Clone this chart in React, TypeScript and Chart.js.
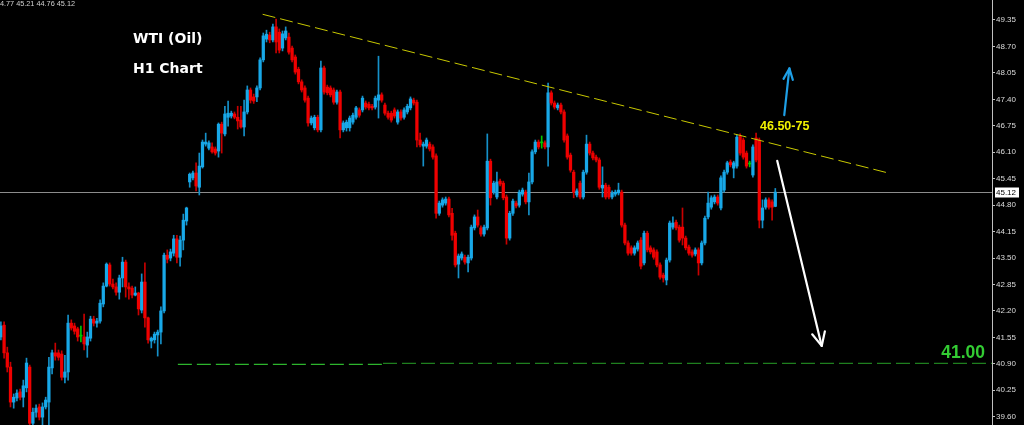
import { useEffect, useRef } from "react";
import { Chart, registerables } from "chart.js";

Chart.register(...registerables);

// ---- Data (WTI H1 candles) ----
const OPEN = [
  41.56, 41.85, 41.17, 40.82, 39.96, 40.06, 40.21, 40.08, 40.31, 40.82,
  39.44, 39.71, 39.84, 39.59, 39.84, 39.96, 40.80, 41.17, 41.17, 41.14,
  40.57, 40.70, 41.90, 41.83, 41.76, 41.58, 41.56, 41.36, 41.53, 42.00,
  41.90, 41.95, 42.37, 42.81, 43.33, 42.86, 42.79, 42.66, 43.01, 43.40,
  42.79, 42.76, 42.59, 42.64, 42.22, 42.91, 42.03, 41.46, 41.49, 41.61,
  41.68, 42.20, 43.57, 43.50, 43.62, 43.97, 43.52, 43.94, 44.41, 45.37,
  45.47, 45.59, 45.24, 45.74, 46.30, 46.20, 46.23, 46.18, 46.13, 46.79,
  46.55, 46.96, 46.99, 47.04, 46.96, 46.89, 46.72, 47.09, 47.63, 47.46,
  47.46, 47.68, 48.37, 48.88, 48.98, 48.86, 49.18, 49.05, 48.66, 48.91,
  48.93, 48.66, 48.44, 48.14, 47.83, 47.68, 47.43, 46.82, 46.70, 46.96,
  46.65, 48.17, 47.70, 47.68, 47.63, 47.33, 47.58, 46.65, 46.70, 46.70,
  46.84, 46.96, 47.14, 47.14, 47.31, 47.28, 47.23, 47.21, 47.38, 47.51,
  47.26, 47.06, 47.06, 47.14, 46.84, 47.09, 46.96, 47.09, 47.19, 47.38,
  47.33, 46.40, 46.25, 46.25, 46.30, 46.23, 46.01, 44.60, 44.80, 44.85,
  44.95, 44.60, 44.11, 43.35, 43.50, 43.52, 43.38, 43.50, 44.24, 44.51,
  44.24, 44.09, 44.24, 45.88, 45.12, 45.00, 45.39, 45.34, 45.00, 43.99,
  44.60, 44.85, 44.80, 45.07, 45.12, 44.88, 45.37, 46.11, 46.35, 46.33,
  46.33, 46.23, 47.56, 47.31, 47.19, 47.26, 47.09, 46.50, 46.03, 45.61,
  45.05, 45.34, 45.00, 45.61, 46.30, 46.08, 45.98, 45.91, 45.22, 45.29,
  45.24, 45.00, 45.07, 45.10, 45.12, 44.31, 43.87, 43.75, 43.62, 43.72,
  43.94, 43.38, 44.11, 43.75, 43.70, 43.65, 43.33, 43.08, 42.96, 43.45,
  44.26, 44.38, 44.26, 44.26, 43.99, 43.77, 43.65, 43.60, 43.70, 43.38,
  43.87, 44.51, 44.75, 44.88, 45.00, 44.73, 45.17, 45.61, 45.86, 45.71,
  45.76, 46.50, 46.40, 46.08, 45.81, 45.54, 46.45, 46.40, 44.43, 44.75,
  44.93, 44.88, 44.77,
];
const HIGH = [
  41.93, 41.93, 41.31, 40.94, 40.16, 40.26, 40.28, 40.50, 41.04, 40.87,
  39.81, 39.89, 39.91, 39.94, 40.08, 41.06, 41.24, 41.41, 41.24, 41.22,
  41.11, 42.10, 41.98, 41.90, 41.80, 41.83, 42.12, 41.68, 42.07, 42.07,
  42.02, 42.47, 42.89, 43.38, 43.38, 42.98, 42.89, 43.08, 43.52, 43.45,
  42.89, 42.81, 42.79, 42.66, 43.11, 43.38, 42.05, 41.56, 41.68, 41.73,
  42.30, 43.62, 43.70, 43.72, 44.06, 44.06, 44.04, 44.58, 44.75, 45.59,
  45.64, 45.84, 46.08, 46.40, 46.57, 46.38, 46.33, 46.23, 46.82, 46.84,
  47.23, 47.36, 47.11, 47.09, 47.23, 47.23, 47.38, 47.73, 47.68, 47.53,
  47.73, 48.42, 49.03, 49.10, 49.05, 49.25, 49.37, 49.13, 49.08, 49.18,
  49.03, 48.71, 48.49, 48.19, 47.88, 47.73, 47.48, 46.99, 47.01, 47.01,
  48.34, 48.22, 47.75, 47.73, 47.68, 47.63, 47.63, 46.87, 46.89, 46.99,
  47.06, 47.23, 47.19, 47.48, 47.36, 47.33, 47.28, 47.48, 48.46, 47.56,
  47.31, 47.11, 47.11, 47.19, 47.14, 47.14, 47.19, 47.28, 47.46, 47.43,
  47.38, 46.57, 46.35, 46.45, 46.35, 46.28, 46.06, 44.90, 44.98, 45.00,
  45.00, 44.72, 44.16, 43.60, 43.65, 43.57, 43.57, 44.31, 44.56, 44.68,
  44.29, 44.31, 46.55, 45.93, 45.39, 45.61, 45.44, 45.39, 45.05, 44.65,
  44.95, 44.90, 45.17, 45.22, 45.17, 45.59, 46.16, 46.40, 46.40, 46.50,
  46.38, 47.80, 47.61, 47.36, 47.31, 47.31, 47.14, 46.55, 46.08, 45.66,
  45.20, 45.39, 45.66, 46.52, 46.35, 46.13, 46.03, 45.96, 45.74, 45.34,
  45.29, 45.15, 45.17, 45.34, 45.17, 44.36, 43.92, 43.80, 43.80, 43.92,
  44.00, 44.16, 44.16, 43.80, 43.75, 43.70, 43.38, 43.13, 43.50, 44.41,
  44.51, 44.43, 44.31, 44.73, 44.04, 43.82, 43.70, 43.75, 43.75, 43.92,
  44.53, 45.12, 45.03, 45.05, 45.05, 45.52, 45.66, 45.88, 45.91, 45.88,
  46.52, 46.55, 46.45, 46.13, 45.88, 46.28, 46.57, 46.45, 44.93, 44.98,
  44.98, 44.93, 45.21,
];
const LOW = [
  41.49, 41.04, 40.70, 39.84, 39.81, 39.99, 40.01, 39.84, 40.21, 39.32,
  39.32, 39.59, 39.52, 39.39, 39.79, 39.39, 40.65, 40.99, 40.99, 40.50,
  40.43, 40.50, 41.73, 41.63, 41.46, 41.44, 41.24, 41.06, 41.46, 41.83,
  41.80, 41.90, 42.30, 42.79, 42.81, 42.74, 42.59, 42.49, 42.79, 42.54,
  42.49, 42.52, 42.57, 42.10, 42.15, 41.80, 41.41, 41.29, 41.41, 41.09,
  41.39, 42.15, 43.38, 43.43, 43.55, 43.38, 43.30, 43.70, 44.31, 45.24,
  45.42, 45.15, 45.05, 45.71, 46.25, 46.16, 46.08, 46.03, 45.98, 46.08,
  46.50, 46.74, 46.94, 46.92, 46.67, 46.69, 46.50, 47.04, 47.31, 47.30,
  47.34, 47.63, 48.32, 48.81, 48.79, 48.81, 48.54, 48.54, 48.59, 48.86,
  48.51, 48.32, 48.02, 47.78, 47.58, 47.33, 46.74, 46.77, 46.65, 46.60,
  46.60, 47.53, 47.51, 47.46, 47.28, 47.28, 46.45, 46.60, 46.62, 46.62,
  46.79, 46.91, 46.96, 47.09, 47.16, 47.14, 47.14, 47.16, 46.94, 47.33,
  47.01, 46.91, 46.84, 46.94, 46.79, 46.89, 46.91, 47.04, 47.14, 47.26,
  46.23, 46.23, 45.76, 46.20, 46.13, 45.93, 44.48, 44.55, 44.75, 44.80,
  44.51, 43.94, 43.28, 43.01, 43.45, 43.35, 43.16, 43.45, 44.19, 44.26,
  44.04, 44.04, 44.19, 44.80, 45.07, 44.95, 45.27, 44.93, 43.84, 43.94,
  44.55, 44.73, 44.75, 45.02, 44.83, 44.56, 45.32, 46.06, 46.18, 46.20,
  46.18, 45.76, 47.26, 47.16, 47.14, 47.04, 46.35, 45.93, 45.61, 44.98,
  45.00, 44.95, 44.95, 45.56, 46.03, 45.91, 45.86, 45.19, 45.00, 44.95,
  44.95, 44.95, 45.02, 45.05, 44.26, 43.82, 43.57, 43.57, 43.57, 43.67,
  43.23, 43.33, 43.65, 43.60, 43.47, 43.28, 42.98, 42.91, 42.84, 43.40,
  44.21, 44.19, 43.89, 43.82, 43.70, 43.57, 43.52, 43.55, 43.08, 43.33,
  43.82, 44.46, 44.70, 44.83, 44.80, 44.68, 45.12, 45.56, 45.74, 45.47,
  45.71, 46.03, 45.93, 45.71, 45.74, 45.49, 45.86, 44.24, 44.24, 44.70,
  44.70, 44.43, 44.76,
];
const CLOSE = [
  41.83, 41.17, 40.82, 39.96, 40.08, 40.18, 40.08, 40.36, 40.92, 39.44,
  39.71, 39.81, 39.59, 39.84, 40.01, 40.82, 41.17, 41.09, 41.06, 40.57,
  40.70, 41.90, 41.78, 41.70, 41.56, 41.58, 41.39, 41.56, 42.00, 41.90,
  41.95, 42.39, 42.81, 43.35, 42.86, 42.79, 42.66, 43.01, 43.40, 42.79,
  42.74, 42.59, 42.64, 42.25, 42.91, 42.03, 41.49, 41.53, 41.63, 41.68,
  42.20, 43.57, 43.47, 43.65, 43.97, 43.52, 43.94, 44.43, 44.73, 45.56,
  45.59, 45.27, 45.76, 46.35, 46.35, 46.33, 46.11, 46.08, 46.79, 46.57,
  47.04, 47.06, 47.06, 46.96, 46.87, 46.72, 47.09, 47.63, 47.38, 47.36,
  47.68, 48.37, 48.96, 49.00, 48.86, 49.18, 48.81, 48.61, 49.01, 49.08,
  48.56, 48.37, 48.07, 47.83, 47.63, 47.38, 46.82, 46.94, 46.96, 46.65,
  48.17, 47.58, 47.56, 47.51, 47.33, 47.58, 46.65, 46.82, 46.84, 46.94,
  47.01, 47.19, 47.01, 47.43, 47.21, 47.19, 47.19, 47.43, 47.51, 47.38,
  47.06, 46.96, 46.89, 46.99, 47.09, 46.94, 47.14, 47.23, 47.41, 47.31,
  46.40, 46.28, 46.30, 46.40, 46.18, 45.98, 44.60, 44.85, 44.93, 44.95,
  44.56, 44.06, 43.33, 43.55, 43.60, 43.40, 43.52, 44.26, 44.51, 44.31,
  44.09, 44.26, 45.88, 44.98, 45.34, 45.37, 45.32, 44.98, 43.99, 44.60,
  44.90, 44.78, 45.12, 45.17, 44.88, 45.37, 46.11, 46.35, 46.23, 46.33,
  46.23, 47.56, 47.31, 47.21, 47.26, 47.09, 46.40, 45.98, 45.66, 45.12,
  45.15, 45.00, 45.61, 46.30, 46.08, 45.96, 45.91, 45.24, 45.29, 45.00,
  45.00, 45.10, 45.12, 45.17, 44.31, 43.87, 43.62, 43.62, 43.75, 43.87,
  43.30, 44.11, 43.70, 43.65, 43.52, 43.33, 43.03, 43.01, 43.45, 44.36,
  44.36, 44.24, 43.94, 43.99, 43.75, 43.62, 43.57, 43.70, 43.38, 43.87,
  44.48, 44.85, 44.98, 45.00, 44.85, 45.47, 45.61, 45.84, 45.79, 45.84,
  46.47, 46.08, 45.98, 45.76, 45.81, 46.23, 45.91, 44.43, 44.73, 44.93,
  44.75, 44.75, 45.12,
];

const Y_TICKS = [
  39.6, 40.25, 40.9, 41.55, 42.2, 42.85, 43.5, 44.15, 44.8, 45.45, 46.1,
  46.75, 47.4, 48.05, 48.7, 49.35,
];
const Y_MIN = 39.3967;
const Y_MAX = 49.8415;
const X_MIN = -0.28;
const X_MAX = 309.72;

const LAST_PRICE = 45.12;
const INFO_TEXT = "44.77 45.21 44.76 45.12";

// Drawn objects (bar index, price)
const TREND_LINE = [
  { x: 81.8, y: 49.49 },
  { x: 277.8, y: 45.58 },
];
const SUPPORT_A = [
  { x: 55.3, y: 40.885 },
  { x: 119.4, y: 40.885 },
];
const SUPPORT_B = [
  { x: 119.4, y: 40.91 },
  { x: 309.7, y: 40.91 },
];
const UP_ARROW = [
  { x: 244.8, y: 47.01 },
  { x: 246.4, y: 48.16 },
];
const DOWN_ARROW = [
  { x: 242.6, y: 45.89 },
  { x: 256.5, y: 41.34 },
];

const UP_BODY = "#18a8e8";
const DOWN_BODY = "#f00000";
const DOJI = "#00c800";
const UP_WICK = "#1590c8";
const DOWN_WICK = "#c80000";

function drawArrow(
  ctx: CanvasRenderingContext2D,
  x1: number,
  y1: number,
  x2: number,
  y2: number,
  color: string,
  width: number,
  headLen: number,
  headAngle: number
) {
  ctx.save();
  ctx.strokeStyle = color;
  ctx.lineWidth = width;
  ctx.lineCap = "round";
  ctx.lineJoin = "round";
  ctx.beginPath();
  ctx.moveTo(x1, y1);
  ctx.lineTo(x2, y2);
  ctx.stroke();
  const a = Math.atan2(y1 - y2, x1 - x2);
  ctx.beginPath();
  ctx.moveTo(
    x2 + headLen * Math.cos(a + headAngle),
    y2 + headLen * Math.sin(a + headAngle)
  );
  ctx.lineTo(x2, y2);
  ctx.lineTo(
    x2 + headLen * Math.cos(a - headAngle),
    y2 + headLen * Math.sin(a - headAngle)
  );
  ctx.stroke();
  ctx.restore();
}

const overlayPlugin = {
  id: "overlay",
  beforeDatasetsDraw(chart: any) {
    const { ctx, chartArea, scales } = chart;
    const py = Math.round(scales.y.getPixelForValue(LAST_PRICE)) + 0.5;
    ctx.save();
    ctx.strokeStyle = "#8c8c8c";
    ctx.lineWidth = 1;
    ctx.beginPath();
    ctx.moveTo(chartArea.left, py);
    ctx.lineTo(chartArea.right, py);
    ctx.stroke();
    ctx.restore();
  },
  afterDraw(chart: any) {
    const { ctx, chartArea, scales } = chart;
    const xs = scales.x;
    const ys = scales.y;
    const px = (p: { x: number; y: number }) => [
      xs.getPixelForValue(p.x),
      ys.getPixelForValue(p.y),
    ];

    const [ua, ub] = [px(UP_ARROW[0]), px(UP_ARROW[1])];
    drawArrow(ctx, ua[0], ua[1], ub[0], ub[1], "#1e9fe6", 2.2, 12, 0.4);
    const [da, db] = [px(DOWN_ARROW[0]), px(DOWN_ARROW[1])];
    drawArrow(ctx, da[0], da[1], db[0], db[1], "#ffffff", 2.2, 15, 0.45);

    ctx.save();
    // header info
    ctx.fillStyle = "#d0d0d0";
    ctx.font = "7.3px 'Liberation Sans', Arial, sans-serif";
    ctx.textAlign = "right";
    ctx.textBaseline = "alphabetic";
    ctx.fillText(INFO_TEXT, 75, 6);

    // titles
    ctx.textAlign = "left";
    ctx.fillStyle = "#ffffff";
    ctx.font = "bold 14px 'DejaVu Sans', sans-serif";
    ctx.fillText("WTI (Oil)", 133, 43);
    ctx.fillText("H1 Chart", 133, 73);

    // target label
    ctx.fillStyle = "#f2f200";
    ctx.font = "bold 12.5px 'Liberation Sans', Arial, sans-serif";
    ctx.fillText("46.50-75", 760, 129.5);

    // support label
    ctx.fillStyle = "#33cc33";
    ctx.font = "bold 17.5px 'Liberation Sans', Arial, sans-serif";
    ctx.textAlign = "right";
    ctx.fillText("41.00", chartArea.right - 7, 357.5);

    // last price box on the axis
    const py = Math.round(ys.getPixelForValue(LAST_PRICE));
    ctx.fillStyle = "#ffffff";
    ctx.fillRect(chartArea.right + 3, py - 4.5, 24, 10);
    ctx.fillStyle = "#000000";
    ctx.font = "8px 'Liberation Sans', Arial, sans-serif";
    ctx.textAlign = "left";
    ctx.textBaseline = "middle";
    ctx.fillText(LAST_PRICE.toFixed(2), chartArea.right + 4, py + 0.5);
    ctx.restore();
  },
};

export default function App() {
  const ref = useRef<HTMLCanvasElement | null>(null);

  useEffect(() => {
    if (!ref.current) return;
    const idx = OPEN.map((_, i) => i);
    const dir = idx.map((i) =>
      CLOSE[i] > OPEN[i] ? 1 : CLOSE[i] < OPEN[i] ? -1 : 0
    );
    const bodyColors = dir.map((d) =>
      d > 0 ? UP_BODY : d < 0 ? DOWN_BODY : DOJI
    );
    const wickColors = dir.map((d) =>
      d > 0 ? UP_WICK : d < 0 ? DOWN_WICK : DOJI
    );

    const chart = new Chart(ref.current, {
      type: "bar",
      data: {
        datasets: [
          {
            type: "line",
            data: TREND_LINE,
            borderColor: "#c8c800",
            borderWidth: 1,
            borderDash: [13, 5],
            pointRadius: 0,
            order: 0,
          } as any,
          {
            type: "line",
            data: SUPPORT_A,
            borderColor: "#2db52d",
            borderWidth: 1.3,
            borderDash: [14, 5],
            pointRadius: 0,
            order: 0,
          } as any,
          {
            type: "line",
            data: SUPPORT_B,
            borderColor: "#1f7f1f",
            borderWidth: 1.3,
            borderDash: [14, 5],
            pointRadius: 0,
            order: 0,
          } as any,
          {
            type: "bar",
            data: idx.map((i) => ({ x: i, y: [OPEN[i], CLOSE[i]] })),
            backgroundColor: bodyColors,
            barThickness: 2.6,
            grouped: false,
            minBarLength: 1,
            borderWidth: 0,
            order: 1,
          } as any,
          {
            type: "bar",
            data: idx.map((i) => ({ x: i, y: [LOW[i], HIGH[i]] })),
            backgroundColor: wickColors,
            barThickness: 1,
            grouped: false,
            borderWidth: 0,
            order: 2,
          } as any,
        ],
      },
      options: {
        animation: false,
        responsive: false,
        devicePixelRatio: 1,
        events: [],
        layout: { padding: 0, autoPadding: false } as any,
        plugins: {
          legend: { display: false },
          tooltip: { enabled: false },
        },
        scales: {
          x: {
            type: "linear",
            min: X_MIN,
            max: X_MAX,
            display: false,
            offset: false,
          },
          y: {
            position: "right",
            min: Y_MIN,
            max: Y_MAX,
            afterBuildTicks: (s: any) => {
              s.ticks = Y_TICKS.map((v) => ({ value: v }));
            },
            afterFit: (s: any) => {
              s.width = 32;
              s.paddingTop = 0;
              s.paddingBottom = 0;
            },
            ticks: {
              autoSkip: false,
              color: "#dcdcdc",
              padding: 1,
              font: { family: "'Liberation Sans', Arial, sans-serif", size: 8 },
              callback: (v: any) => Number(v).toFixed(2),
            },
            grid: {
              drawOnChartArea: false,
              drawTicks: true,
              tickLength: 3,
              color: "#c0c0c0",
            },
            border: { display: true, color: "#c0c0c0", width: 1 },
          } as any,
        },
      },
      plugins: [overlayPlugin],
    });
    return () => chart.destroy();
  }, []);

  return (
    <div
      style={{
        position: "fixed",
        left: 0,
        top: 0,
        width: 1024,
        height: 425,
        background: "#000",
        overflow: "hidden",
      }}
    >
      <canvas
        ref={ref}
        width={1024}
        height={425}
        style={{ display: "block", background: "#000" }}
      />
    </div>
  );
}
